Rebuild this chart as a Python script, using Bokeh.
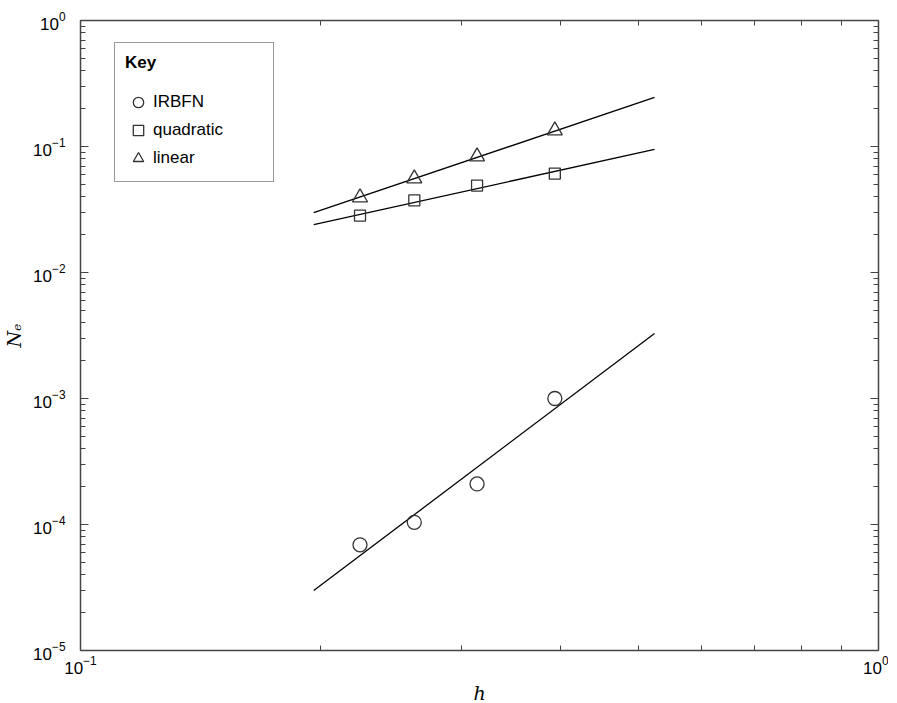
from bokeh.plotting import figure
from bokeh.models import LogAxis, Legend, LegendItem, Range1d, FixedTicker, LogTickFormatter
from bokeh.embed import file_html
from bokeh.resources import INLINE

# data
h = [0.224, 0.262, 0.314, 0.393]
irbfn = [6.9e-5, 1.04e-4, 2.1e-4, 1.0e-3]
quad = [0.0283, 0.0373, 0.049, 0.061]
lin = [0.0394, 0.0557, 0.0833, 0.134]
fit_h = [0.196, 0.524]
fit_irbfn = [2.99e-5, 3.28e-3]
fit_quad = [0.0240, 0.0947]
fit_lin = [0.0299, 0.245]
x_major = [0.1, 1.0]
x_minor = [0.2, 0.3, 0.4, 0.5, 0.6, 0.7, 0.8, 0.9]
y_major = [1e-5, 1e-4, 1e-3, 1e-2, 1e-1, 1.0]
y_minor = [m * d for d in [1e-5, 1e-4, 1e-3, 1e-2, 1e-1] for m in range(2, 10)]

AX = "#444444"

p = figure(x_axis_type="log", y_axis_type="log",
           x_range=Range1d(0.1, 1.0), y_range=Range1d(1e-5, 1.0),
           frame_width=798, frame_height=630,
           min_border_left=72, min_border_right=10, min_border_top=20, min_border_bottom=10,
           output_backend="svg", toolbar_location=None,
           x_axis_label="h", y_axis_label="Nₑ")
p.grid.visible = False
p.outline_line_color = None
p.background_fill_color = "white"

p.add_layout(LogAxis(), "right")
p.add_layout(LogAxis(), "above")

for ax in p.xaxis:
    ax.ticker = FixedTicker(ticks=x_major, minor_ticks=x_minor)
for ax in p.yaxis:
    ax.ticker = FixedTicker(ticks=y_major, minor_ticks=y_minor)

for ax in p.xaxis + p.yaxis:
    ax.formatter = LogTickFormatter()
    ax.axis_line_color = AX
    ax.axis_line_width = 1.5
    ax.major_tick_line_color = AX
    ax.minor_tick_line_color = AX
    ax.major_tick_in = 8
    ax.major_tick_out = 0
    ax.minor_tick_in = 5
    ax.minor_tick_out = 0
    ax.major_label_text_font = "Liberation Sans"
    ax.major_label_text_font_size = "17px"
    ax.major_label_text_color = "black"
    ax.axis_label_text_font = "DejaVu Serif"
    ax.axis_label_text_font_style = "italic"
    ax.axis_label_text_font_size = "19px"
    ax.axis_label_text_color = "black"

for ax in (p.right[0], p.above[0]):
    ax.major_label_text_font_size = "1px"
    ax.major_label_text_alpha = 0
    ax.major_label_standoff = 0
p.xaxis[0].major_label_standoff = 22
p.xaxis[0].axis_label_standoff = 6
p.yaxis[0].major_label_standoff = 15

p.line(fit_h, fit_irbfn, line_color="black", line_width=1.3)
p.line(fit_h, fit_quad, line_color="black", line_width=1.3)
p.line(fit_h, fit_lin, line_color="black", line_width=1.3)

r1 = p.scatter(h, irbfn, marker="circle", size=14, fill_color=None, line_color="#333333", line_width=1.3)
r2 = p.scatter(h, quad, marker="square", size=11, fill_color=None, line_color="#333333", line_width=1.3)
r3 = p.scatter(h, lin, marker="triangle", size=15, fill_color=None, line_color="#333333", line_width=1.3)

legend = Legend(items=[LegendItem(label="IRBFN", renderers=[r1]),
                       LegendItem(label="quadratic", renderers=[r2]),
                       LegendItem(label="linear", renderers=[r3])],
                title="Key", location=(34, 468))
legend.title_text_font = "Liberation Sans"
legend.title_text_font_style = "bold"
legend.title_text_font_size = "17px"
legend.title_text_color = "black"
legend.title_standoff = 16
legend.label_text_font = "Liberation Sans"
legend.label_text_font_size = "17px"
legend.label_text_color = "black"
legend.label_width = 110
legend.label_standoff = 2
legend.spacing = 2
legend.padding = 10
legend.glyph_width = 26
legend.glyph_height = 26
legend.border_line_color = "#333333"
legend.border_line_width = 1.2
legend.background_fill_alpha = 1
p.add_layout(legend, "center")

open("out.html", "w").write(file_html(p, INLINE))
